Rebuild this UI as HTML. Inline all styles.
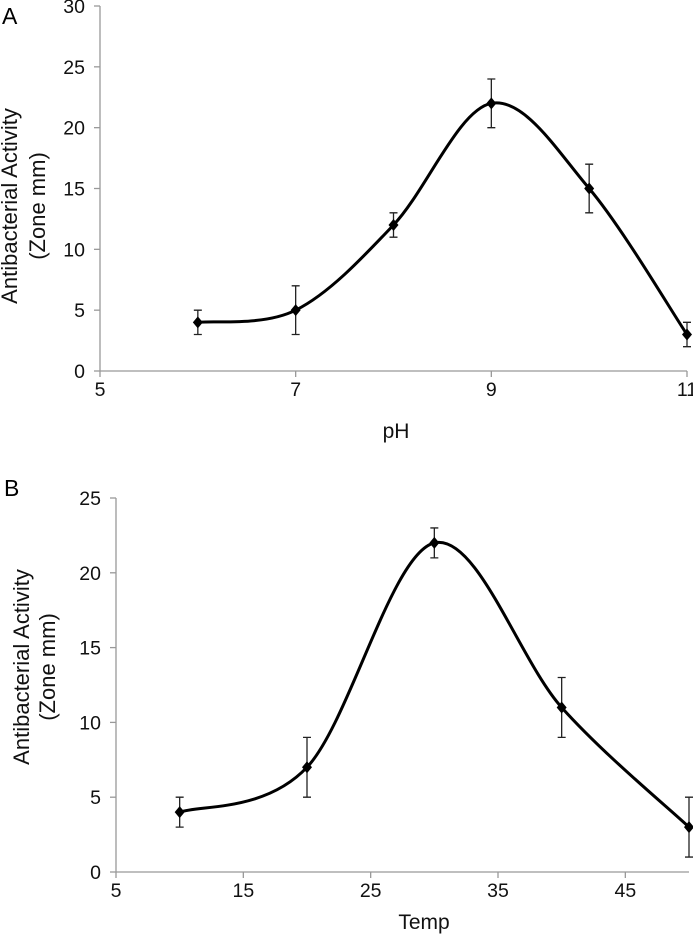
<!DOCTYPE html>
<html><head><meta charset="utf-8"><style>
html,body{margin:0;padding:0;background:#fff;}
svg{display:block;font-family:"Liberation Sans",Arial,sans-serif;}
</style></head><body>
<svg id="chart" width="693" height="934" viewBox="0 0 693 934">
<text x="2" y="24" font-size="23">A</text>
<text x="4" y="496" font-size="23">B</text>
</svg>
<script>
// Panel A data
const phValues = [6, 7, 8, 9, 10, 11];
const phActivity = [4, 5, 12, 22, 15, 3];
const phError = [1, 2, 1, 2, 2, 1];
const phXTicks = [5, 7, 9, 11];
const phYTicks = [0, 5, 10, 15, 20, 25, 30];
// Panel B data
const tempValues = [10, 20, 30, 40, 50];
const tempActivity = [4, 7, 22, 11, 3];
const tempError = [1, 2, 1, 2, 2];
const tempXTicks = [5, 15, 25, 35, 45];
const tempYTicks = [0, 5, 10, 15, 20, 25];

const NS = "http://www.w3.org/2000/svg";
const svg = document.getElementById('chart');
function mk(tag, attrs, parent){
  const e = document.createElementNS(NS, tag);
  for (const k in attrs) e.setAttribute(k, attrs[k]);
  (parent || svg).appendChild(e);
  return e;
}
function cardinal(pts, t){
  let d = `M${pts[0][0]},${pts[0][1]}`;
  for (let i=0;i<pts.length-1;i++){
    const p0=pts[Math.max(0,i-1)], p1=pts[i], p2=pts[i+1], p3=pts[Math.min(pts.length-1,i+2)];
    const c1x=p1[0]+(p2[0]-p0[0])*t/3, c1y=p1[1]+(p2[1]-p0[1])*t/3;
    const c2x=p2[0]-(p3[0]-p1[0])*t/3, c2y=p2[1]-(p3[1]-p1[1])*t/3;
    d += ` C${c1x},${c1y} ${c2x},${c2y} ${p2[0]},${p2[1]}`;
  }
  return d;
}
function drawPanel(cfg, prefix){
  const xs = v => cfg.x0 + (v - cfg.xmin) * (cfg.x1 - cfg.x0) / (cfg.xmax - cfg.xmin);
  const ys = v => cfg.y0 - (v - cfg.ymin) * (cfg.y0 - cfg.y1) / (cfg.ymax - cfg.ymin);
  const g = mk('g', {});
  
  
  const ya = mk('line', {x1:cfg.x0, y1:cfg.y1, x2:cfg.x0, y2:cfg.y0, stroke:'#999', 'stroke-width':1.3}, g);
  
  
  const xa = mk('line', {x1:cfg.x0, y1:cfg.y0, x2:cfg.x1, y2:cfg.y0, stroke:'#999', 'stroke-width':1.3}, g);
  
  
  cfg.yTicks.forEach(v => {
    const y = ys(v);
    mk('line', {x1:cfg.x0-6, y1:y, x2:cfg.x0, y2:y, stroke:'#999', 'stroke-width':1.3}, g);
    const t = mk('text', {x:cfg.x0-15, y:y+7, 'font-size':19.5, 'text-anchor':'end', fill:'#111'}, g);
    t.textContent = v;
    
    
  });
  cfg.xTicks.forEach(v => {
    const x = xs(v);
    mk('line', {x1:x, y1:cfg.y0, x2:x, y2:cfg.y0+6, stroke:'#999', 'stroke-width':1.3}, g);
    const t = mk('text', {x:x, y:cfg.y0+25, 'font-size':19.5, 'text-anchor':'middle', fill:'#111'}, g);
    t.textContent = v;
    
    
  });
  const xt = mk('text', {x:cfg.xtX, y:cfg.xtY, 'font-size':21, 'text-anchor':'middle', fill:'#111'}, g);
  xt.textContent = cfg.xTitle;
  
  
  const yt = mk('text', {transform:`translate(${cfg.ytX},${cfg.ytY}) rotate(-90)`, 'font-size':22, 'text-anchor':'middle', fill:'#111'}, g);
  
  
  const s1 = mk('tspan', {x:0, dy:0}, yt); s1.textContent = 'Antibacterial Activity';
  const s2 = mk('tspan', {x:0, dy:cfg.ytGap}, yt); s2.textContent = '(Zone mm)';
  const pts = cfg.xv.map((v,i) => [xs(v), ys(cfg.yv[i])]);
  const path = mk('path', {d:cardinal(pts, 0.5), fill:'none', stroke:'#000', 'stroke-width':3}, g);
  
  
  cfg.xv.forEach((v,i) => {
    const x = xs(v), y = ys(cfg.yv[i]);
    const yh = ys(cfg.yv[i] + cfg.err[i]), yl = ys(cfg.yv[i] - cfg.err[i]);
    const eb = mk('path', {d:`M${x},${yh} V${yl} M${x-4},${yh} H${x+4} M${x-4},${yl} H${x+4}`, stroke:'#222', 'stroke-width':1.3, fill:'none'}, g);
    
    
    const m = mk('path', {d:`M${x},${y-6} L${x+5},${y} L${x},${y+6} L${x-5},${y} Z`, fill:'#000'}, g);
    
    
  });
}
drawPanel({x0:100, x1:687, xmin:5, xmax:11, y0:371, y1:6, ymin:0, ymax:30,
  xv:phValues, yv:phActivity, err:phError, xTicks:phXTicks, yTicks:phYTicks,
  xTitle:'pH', xtX:396, xtY:438, ytX:17, ytY:206, ytGap:28}, 'ph');
drawPanel({x0:116, x1:689, xmin:5, xmax:50, y0:872, y1:498, ymin:0, ymax:25,
  xv:tempValues, yv:tempActivity, err:tempError, xTicks:tempXTicks, yTicks:tempYTicks,
  xTitle:'Temp', xtX:424, xtY:929, ytX:29, ytY:667, ytGap:26}, 'temp');
</script>
</body></html>
